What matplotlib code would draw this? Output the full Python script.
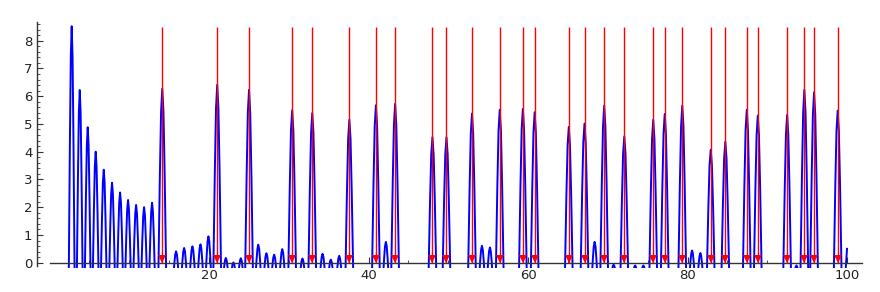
import matplotlib
matplotlib.use("Agg")
import matplotlib.pyplot as plt
import numpy as np
from matplotlib.ticker import MultipleLocator, FixedLocator

# ---- data ----
# small "comb" peaks of the blue curve (position, height)
comb_x = [2.77, 3.78, 4.78, 5.78, 6.79, 7.83, 8.84, 9.84, 10.85, 11.85, 12.85,
          15.86, 16.87, 17.91, 18.92, 19.92, 22.10, 23.05, 23.98, 26.17, 27.19,
          28.16, 29.18, 31.71, 34.23, 35.27, 36.32, 42.17, 54.22, 55.22, 68.35,
          70.73, 73.43, 74.46, 80.57, 81.61, 93.66]
comb_h = [8.52, 6.22, 4.88, 4.00, 3.35, 2.88, 2.53, 2.26, 2.08, 2.00, 2.16,
          0.41, 0.53, 0.59, 0.66, 0.95, 0.17, 0.01, 0.16, 0.65, 0.34,
          0.29, 0.49, 0.15, 0.32, 0.11, 0.25, 0.75, 0.61, 0.55, 0.75,
          -0.07, -0.10, -0.10, 0.44, 0.35, -0.10]

# tall peaks of the blue curve, located at the zeta zeros (position, height)
zero_peak_x = [14.13, 21.02, 25.01, 30.42, 32.94, 37.59, 40.92, 43.33, 48.01,
               49.77, 52.97, 56.45, 59.35, 60.83, 65.11, 67.08, 69.55, 72.07,
               75.70, 77.14, 79.34, 82.91, 84.74, 87.43, 88.81, 92.49, 94.65,
               95.87, 98.83]
zero_peak_h = [6.27, 6.41, 6.23, 5.49, 5.39, 5.15, 5.67, 5.72, 4.52,
               4.52, 5.37, 5.51, 5.54, 5.42, 4.89, 5.01, 5.66, 4.55,
               5.15, 5.36, 5.66, 4.07, 4.36, 5.51, 5.30, 5.32, 6.23,
               6.14, 5.48]

# end point of the blue curve
end_x = 100.0
end_y = 0.50

# red arrows (zeta zeros)
zeros = zero_peak_x
arrow_top = 8.5

# ---- style ----
BASE = -0.6          # below visible range, clipped
W_COMB = 0.37
W_ZERO = 0.50
T_DX = [-1.0, -0.6, -0.3, 0.0, 0.3, 0.6, 1.0]
T_FR = [0.0, 0.55, 0.88, 1.0, 0.88, 0.55, 0.0]

peaks = [(x, h, W_COMB) for x, h in zip(comb_x, comb_h)] + \
        [(x, h, W_ZERO) for x, h in zip(zero_peak_x, zero_peak_h)]
peaks.sort(key=lambda p: p[0])

xs, ys = [], []
for c, h, w in peaks:
    for dx, fr in zip(T_DX, T_FR):
        xs.append(c + dx * w)
        ys.append(BASE + (h - BASE) * fr)
xs += [end_x - 0.25, end_x]
ys += [BASE, end_y]

fig = plt.figure(figsize=(8.8, 2.92), dpi=100)
ax = fig.add_axes([37 / 880, 24.3 / 292, 825 / 880, 245.9 / 292])

ax.plot(xs, ys, color='blue', lw=1.4, zorder=2, solid_joinstyle='round')
ax.vlines(zeros, 0, arrow_top, color='red', lw=1.0, zorder=3)
ax.plot(zeros, [0.14] * len(zeros), 'v', color='red', ms=5.5, mew=0, zorder=4)

ax.set_xlim(-1.58, 101.88)
ax.set_ylim(-0.18, 8.68)

for s in ['top', 'right']:
    ax.spines[s].set_visible(False)
ax.spines['bottom'].set_position(('data', 0))
ax.spines['bottom'].set_bounds(0, 101.88)
ax.spines['left'].set_bounds(-0.13, 8.68)
for s in ['bottom', 'left']:
    ax.spines[s].set_color('#333333')
    ax.spines[s].set_linewidth(1.0)

ax.xaxis.set_major_locator(FixedLocator([20, 40, 60, 80, 100]))
ax.xaxis.set_minor_locator(FixedLocator([v for v in range(5, 101, 5) if v % 20]))
ax.yaxis.set_major_locator(MultipleLocator(1))
ax.yaxis.set_minor_locator(MultipleLocator(0.2))

ax.tick_params(axis='both', which='major', direction='in', length=4, width=0.8,
               colors='#333333', labelcolor='#222222', labelsize=9.5)
ax.tick_params(axis='both', which='minor', direction='in', length=2, width=0.6,
               colors='#333333')
ax.tick_params(axis='x', which='major', pad=4.7)
ax.tick_params(axis='y', which='major', pad=3.4)

fig.savefig('out.png', dpi=100)
